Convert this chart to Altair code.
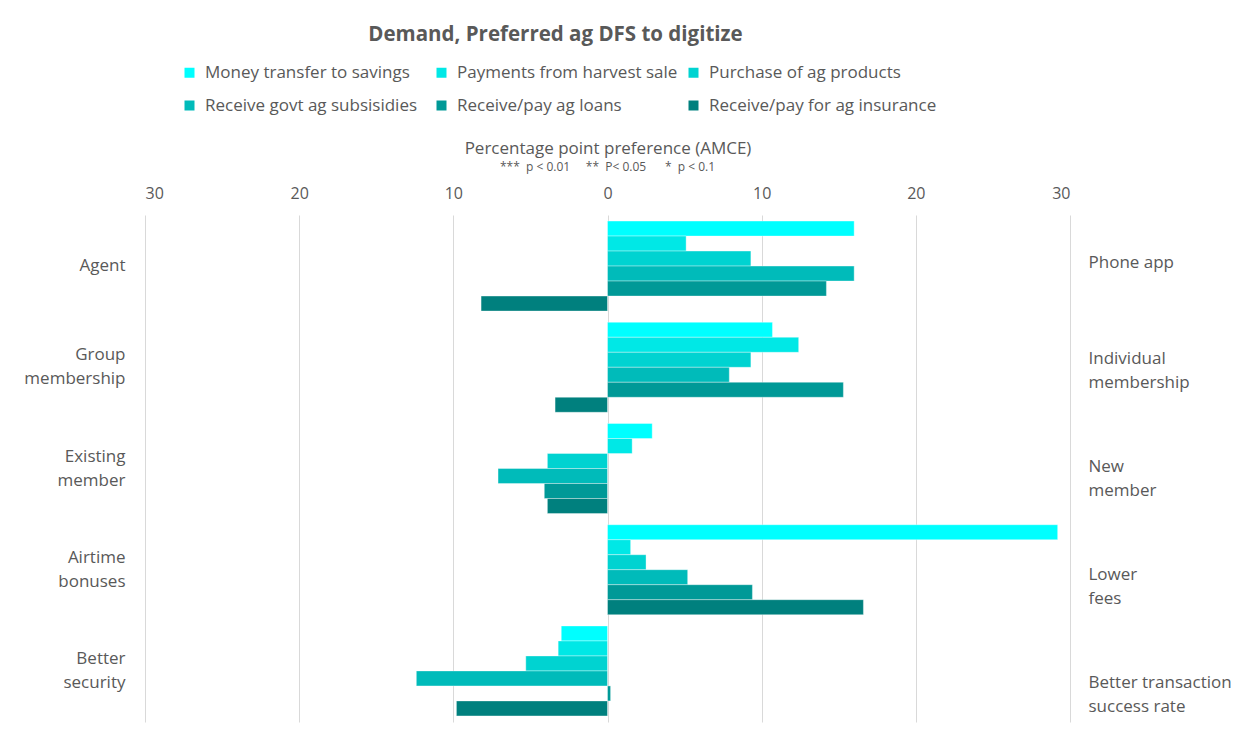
import altair as alt
import pandas as pd

left_labels = ["Agent", "Group\nmembership", "Existing\nmember", "Airtime\nbonuses", "Better\nsecurity"]
right_labels = ["Phone app", "Individual\nmembership", "New\nmember", "Lower\nfees", "Better transaction\nsuccess rate"]

series_names = [
    "Money transfer to savings",
    "Payments from harvest sale",
    "Purchase of ag products",
    "Receive govt ag subsisidies",
    "Receive/pay ag loans",
    "Receive/pay for ag insurance",
]
colors = ["#00FFFF", "#00E8E6", "#00D3D1", "#00BBBA", "#009997", "#00807E"]

money_transfer = [16.0, 10.7, 2.9, 29.2, -3.0]
harvest_sale = [5.1, 12.4, 1.6, 1.5, -3.2]
ag_products = [9.3, 9.3, -3.9, 2.5, -5.3]
govt_subsidies = [16.0, 7.9, -7.1, 5.2, -12.4]
ag_loans = [14.2, 15.3, -4.1, 9.4, 0.2]
ag_insurance = [-8.2, -3.4, -3.9, 16.6, -9.8]

x_ticks = [-30, -20, -10, 0, 10, 20, 30]
title_text = "Demand, Preferred ag DFS to digitize"
axis_title = "Percentage point preference (AMCE)"
NB = "\u00a0"
p_note = ("***" + NB * 2 + "p < 0.01" + NB * 5 + "**" + NB * 2 + "P< 0.05"
          + NB * 6 + "*" + NB * 2 + "p < 0.1")

all_values = [money_transfer, harvest_sale, ag_products, govt_subsidies, ag_loans, ag_insurance]
rows = []
for s, vals in zip(series_names, all_values):
    for lab, v in zip(left_labels, vals):
        rows.append({"left": lab, "series": s, "value": v})
df = pd.DataFrame(rows)
df_right = pd.DataFrame({"right": right_labels})
df_note = pd.DataFrame({"t": [p_note]})

FONT = "Open Sans"
GRAY = "#595959"
MULTI_OFFSET = {"expr": "-(length(split(datum.value, '\\n')) - 1) * 12"}

bars = alt.Chart(df).mark_bar(stroke="white", strokeWidth=0.6, strokeOpacity=0.6).encode(
    x=alt.X(
        "value:Q",
        scale=alt.Scale(domain=[-30, 30], nice=False, zero=False),
        axis=alt.Axis(
            orient="top", values=x_ticks, labelExpr="abs(datum.value)",
            grid=True, gridColor="#d9d9d9", gridWidth=1, domain=False, ticks=False,
            labelFont=FONT, labelFontSize=16, labelColor=GRAY, labelPadding=14,
            title=axis_title, titleFont=FONT, titleFontSize=17, titleFontWeight="normal",
            titleColor=GRAY, titlePadding=28,
        ),
    ),
    y=alt.Y(
        "left:N", sort=left_labels,
        scale=alt.Scale(paddingInner=0.111, paddingOuter=0.06),
        axis=alt.Axis(
            orient="left", title=None, domain=False, ticks=False,
            labelExpr="split(datum.value, '\\n')", labelAlign="right",
            labelPadding=20, labelFont=FONT, labelFontSize=17, labelColor=GRAY,
            labelLineHeight=24, labelOffset=MULTI_OFFSET,
        ),
    ),
    yOffset=alt.YOffset("series:N", sort=series_names),
    color=alt.Color(
        "series:N", sort=series_names,
        scale=alt.Scale(domain=series_names, range=colors),
        legend=alt.Legend(
            orient="none", legendX=36, legendY=-151, columns=3, direction="horizontal",
            title=None, symbolType="square", symbolSize=100, symbolStrokeWidth=0,
            labelFont=FONT, labelFontSize=17, labelColor=GRAY, labelOffset=7,
            rowPadding=15, columnPadding=0, gridAlign="all", labelLimit=400,
        ),
    ),
)

right_axis = alt.Chart(df_right).mark_text(text="", opacity=0).encode(
    y=alt.Y(
        "right:N", sort=right_labels,
        scale=alt.Scale(range=[-7, 533], paddingInner=0, paddingOuter=0),
        axis=alt.Axis(
            orient="right", title=None, domain=False, ticks=False,
            labelExpr="split(datum.value, '\\n')", labelAlign="left",
            labelPadding=18, labelFont=FONT, labelFontSize=17, labelColor=GRAY,
            labelLineHeight=24, labelOffset=MULTI_OFFSET,
        ),
    ),
)

note = alt.Chart(df_note).mark_text(font=FONT, fontSize=12, color=GRAY).encode(
    x=alt.datum(0), y=alt.value(-48), text="t:N"
)

chart = alt.layer(bars, right_axis, note).resolve_scale(y="independent").properties(
    width=925, height=507,
    title=alt.TitleParams(title_text, font=FONT, fontSize=20.5, fontWeight="bold",
                          color=GRAY, anchor="middle", dx=-52, offset=19),
    autosize=alt.AutoSizeParams(type="none"),
    padding={"left": 137, "top": 207, "right": 170, "bottom": 12},
).configure(background="white", view=alt.ViewConfig(stroke=None))

chart.save("out.html", embed_options={"renderer": "svg", "actions": False})
